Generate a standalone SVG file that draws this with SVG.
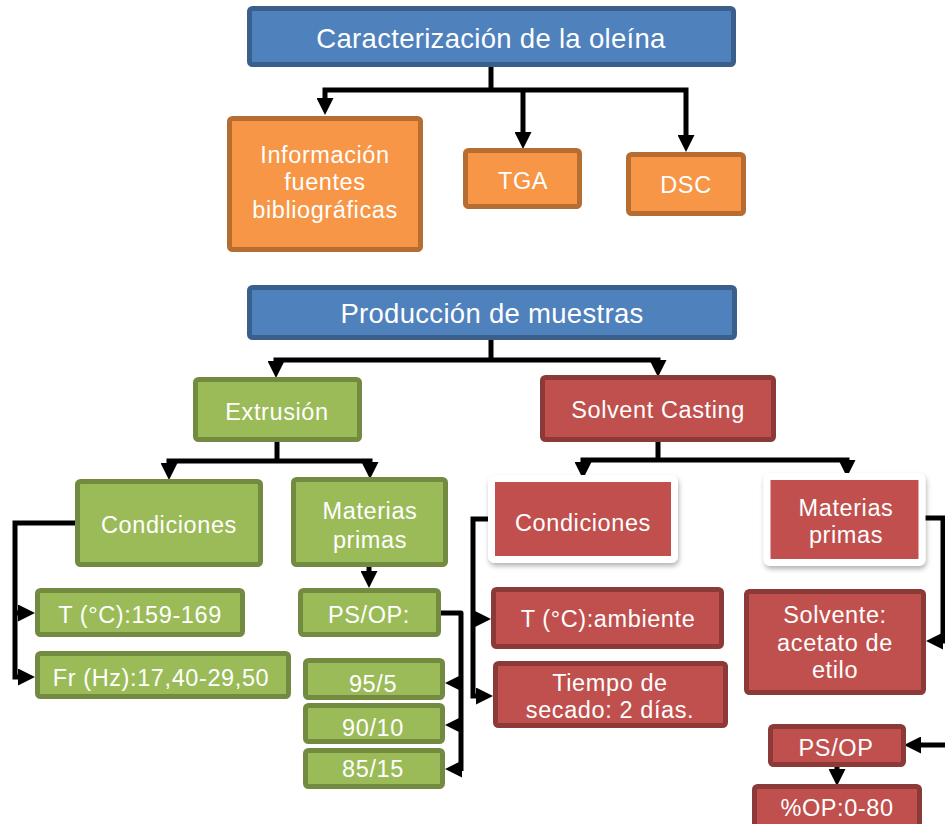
<svg xmlns="http://www.w3.org/2000/svg" width="945" height="824" viewBox="0 0 945 824">
<style>
text{font-family:"Liberation Sans",Arial,sans-serif;fill:#fff;text-anchor:middle;font-size:23.5px;letter-spacing:0.6px}
.t{font-size:27.5px;letter-spacing:0.3px}
.blue{fill:#4F81BD;stroke:#3B5F8B;stroke-width:5}
.org{fill:#F79646;stroke:#B66D31;stroke-width:5}
.grn{fill:#9BBB59;stroke:#738B41;stroke-width:5}
.red{fill:#C0504D;stroke:#8C3A38;stroke-width:5}
.redw{fill:#C0504D;stroke:#fff;stroke-width:7;filter:url(#sh)}
.c{fill:none;stroke:#000;stroke-width:5;stroke-linejoin:round}
.a{fill:none;stroke:#000;stroke-width:5;marker-end:url(#ah)}
</style>
<defs>
<marker id="ah" viewBox="0 0 17 17" markerWidth="17" markerHeight="17" refX="8" refY="8.5" orient="auto" markerUnits="userSpaceOnUse">
<path d="M0,0 L17,8.5 L0,17 z" fill="#000"/>
</marker>
<filter id="sh" x="-10%" y="-10%" width="125%" height="130%">
<feDropShadow dx="1" dy="3" stdDeviation="2.5" flood-color="#000" flood-opacity="0.3"/>
</filter>
</defs>
<rect width="945" height="824" fill="#fff"/>

<g id="connectors">
<path class="c" d="M491,66 V91"/>
<path class="a" d="M491,90 H325 V106"/>
<path class="a" d="M491,90 H686 V143"/>
<path class="a" d="M523,90 V140"/>

<path class="c" d="M491,339 V361"/>
<path class="a" d="M491,360 H276 V369"/>
<path class="a" d="M491,360 H658 V368"/>

<path class="c" d="M277,441 V462"/>
<path class="a" d="M277,461 H169 V471"/>
<path class="a" d="M277,461 H370 V470"/>

<path class="c" d="M658,441 V461"/>
<path class="a" d="M658,460 H583 V470"/>
<path class="a" d="M658,460 H847 V468"/>

<path class="a" d="M75,523 H15 V677 H26"/>
<path class="a" d="M15,613 H26"/>

<path class="a" d="M369,567 V579"/>

<path class="c" d="M441,613 H461 V771"/>
<path class="a" d="M461,683 H454"/>
<path class="a" d="M461,725 H454"/>
<path class="a" d="M461,769 H454"/>

<path class="a" d="M496,519 H473 V696 H484"/>
<path class="a" d="M473,619 H482"/>

<path class="a" d="M918,518 H943 V641 H935"/>
<path class="a" d="M945,745 H913"/>
<path class="a" d="M837,767 V777"/>
</g>

<g id="caracterizacion"><rect class="blue" x="249.5" y="8.5" width="484" height="56" rx="3"/><text class="t" x="491" y="48">Caracterización de la oleína</text></g>
<g id="informacion"><rect class="org" x="229.5" y="118.5" width="191" height="131" rx="3"/><text x="325" y="163">Información</text><text x="325" y="190">fuentes</text><text x="325" y="218">bibliográficas</text></g>
<g id="tga"><rect class="org" x="465.5" y="150.5" width="114" height="56" rx="3"/><text x="523" y="189">TGA</text></g>
<g id="dsc"><rect class="org" x="628.5" y="154.5" width="115" height="59" rx="3"/><text x="686" y="193">DSC</text></g>

<g id="produccion"><rect class="blue" x="249.5" y="287.5" width="485" height="50" rx="3"/><text class="t" x="492" y="323">Producción de muestras</text></g>
<g id="extrusion"><rect class="grn" x="195.5" y="379.5" width="164" height="60" rx="3"/><text x="277" y="420">Extrusión</text></g>
<g id="solvent"><rect class="red" x="542.5" y="377.5" width="231" height="62" rx="3"/><text x="658" y="418">Solvent Casting</text></g>

<g id="cond-ext"><rect class="grn" x="77.5" y="481.5" width="183" height="83" rx="3"/><text x="169" y="533">Condiciones</text></g>
<g id="mat-ext"><rect class="grn" x="293.5" y="479.5" width="152" height="85" rx="3"/><text x="370" y="519">Materias</text><text x="370" y="548">primas</text></g>
<g id="temp-ext"><rect class="grn" x="37.5" y="590.5" width="205" height="44" rx="3"/><text x="140" y="623">T (°C):159-169</text></g>
<g id="fr-ext"><rect class="grn" x="37.5" y="653.5" width="251" height="43" rx="3"/><text x="161" y="686">Fr (Hz):17,40-29,50</text></g>
<g id="psop-ext"><rect class="grn" x="300.5" y="590.5" width="138" height="44" rx="3"/><text x="369" y="623">PS/OP:</text></g>
<g id="r95"><rect class="grn" x="305.5" y="660.5" width="137" height="37" rx="3"/><text x="373" y="692">95/5</text></g>
<g id="r90"><rect class="grn" x="305.5" y="705.5" width="137" height="36" rx="3"/><text x="373" y="736">90/10</text></g>
<g id="r85"><rect class="grn" x="305.5" y="750.5" width="137" height="36" rx="3"/><text x="373" y="777">85/15</text></g>

<g id="cond-sc"><rect class="redw" x="491.5" y="478.5" width="183" height="81" rx="3"/><text x="583" y="531">Condiciones</text></g>
<g id="mat-sc"><rect class="redw" x="767" y="476.5" width="155" height="86" rx="3"/><text x="846" y="516">Materias</text><text x="846" y="543">primas</text></g>
<g id="temp-sc"><rect class="red" x="493.5" y="589.5" width="228" height="57" rx="3"/><text x="608" y="627">T (°C):ambiente</text></g>
<g id="tiempo-sc"><rect class="red" x="495.5" y="663.5" width="230" height="62" rx="3"/><text x="610" y="691">Tiempo de</text><text x="610" y="718">secado: 2 días.</text></g>
<g id="solvente-sc"><rect class="red" x="746.5" y="591.5" width="177" height="101" rx="3"/><text x="835" y="623">Solvente:</text><text x="835" y="651">acetato de</text><text x="835" y="678">etilo</text></g>
<g id="psop-sc"><rect class="red" x="770.5" y="726.5" width="133" height="38" rx="3"/><text x="836" y="756">PS/OP</text></g>
<g id="op-sc"><rect class="red" x="754.5" y="786.5" width="165" height="50" rx="3"/><text x="837" y="816">%OP:0-80</text></g>
</svg>
